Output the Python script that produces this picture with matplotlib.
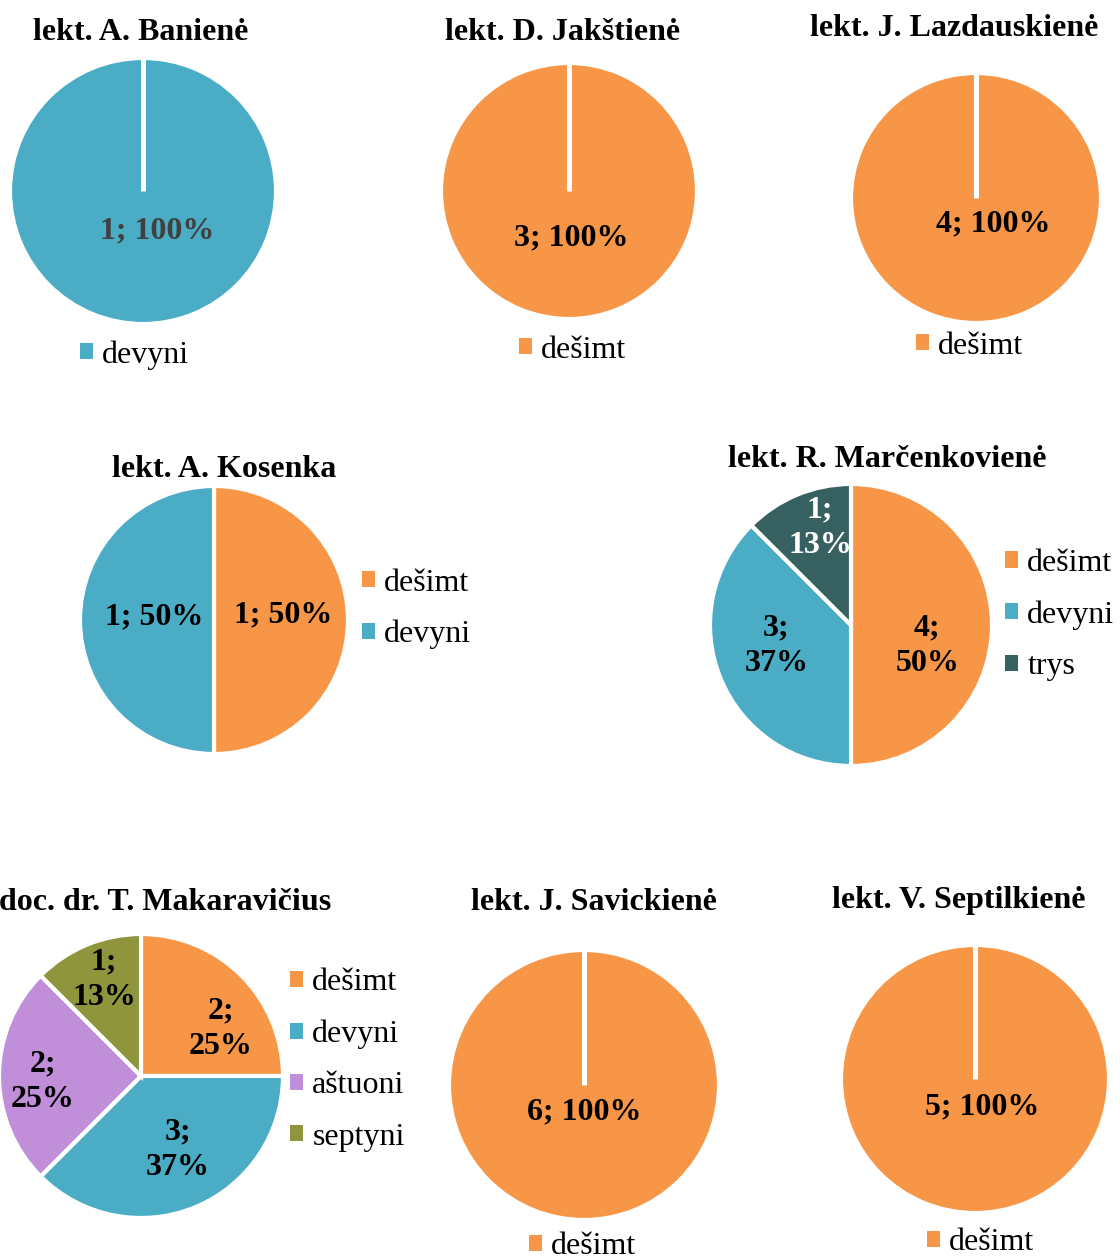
import matplotlib
matplotlib.use("Agg")
import matplotlib.pyplot as plt
from matplotlib.patches import Patch
import numpy as np

plt.rcParams['font.family'] = ['Liberation Serif', 'DejaVu Serif']

W, H = 1120, 1258

# Grade names and their colours
grade_colors = {
    "dešimt": "#F79646",
    "devyni": "#4BACC6",
    "aštuoni": "#C18FDA",
    "septyni": "#8E953C",
    "trys": "#366160",
}

# Lecturers
titles = [
    "lekt. A. Banienė",
    "lekt. D. Jakštienė",
    "lekt. J. Lazdauskienė",
    "lekt. A. Kosenka",
    "lekt. R. Marčenkovienė",
    "doc. dr. T. Makaravičius",
    "lekt. J. Savickienė",
    "lekt. V. Septilkienė",
]

# Grades given by each lecturer: categories, counts, shown percentages
baniene_grades = ["devyni"]
baniene_counts = [1]
baniene_pct = [100]

jakstiene_grades = ["dešimt"]
jakstiene_counts = [3]
jakstiene_pct = [100]

lazdauskiene_grades = ["dešimt"]
lazdauskiene_counts = [4]
lazdauskiene_pct = [100]

kosenka_grades = ["dešimt", "devyni"]
kosenka_counts = [1, 1]
kosenka_pct = [50, 50]

marcenkoviene_grades = ["dešimt", "devyni", "trys"]
marcenkoviene_counts = [4, 3, 1]
marcenkoviene_pct = [50, 37, 13]

makaravicius_grades = ["dešimt", "devyni", "aštuoni", "septyni"]
makaravicius_counts = [2, 3, 2, 1]
makaravicius_pct = [25, 37, 25, 13]

savickiene_grades = ["dešimt"]
savickiene_counts = [6]
savickiene_pct = [100]

septilkiene_grades = ["dešimt"]
septilkiene_counts = [5]
septilkiene_pct = [100]

chart_data = [
    (baniene_grades, baniene_counts, baniene_pct),
    (jakstiene_grades, jakstiene_counts, jakstiene_pct),
    (lazdauskiene_grades, lazdauskiene_counts, lazdauskiene_pct),
    (kosenka_grades, kosenka_counts, kosenka_pct),
    (marcenkoviene_grades, marcenkoviene_counts, marcenkoviene_pct),
    (makaravicius_grades, makaravicius_counts, makaravicius_pct),
    (savickiene_grades, savickiene_counts, savickiene_pct),
    (septilkiene_grades, septilkiene_counts, septilkiene_pct),
]

# Layout in pixels: pie centre/radius, title centre, legend anchor, label spots
layouts = [
    dict(center=(143, 191), r=131, title=(141, 40), legend=(80, 355),
         labels=[(0.11, -0.30)], wrap=False, label_colors=["#404040"]),
    dict(center=(569, 191), r=126, title=(563, 40), legend=(519, 350),
         labels=[(0.02, -0.37)], wrap=False, label_colors=["black"]),
    dict(center=(976, 198), r=123, title=(954, 36), legend=(916, 346),
         labels=[(0.14, -0.21)], wrap=False, label_colors=["black"]),
    dict(center=(214, 620), r=132, title=(224, 477), legend=(362, 609),
         labels=[(0.52, 0.04), (-0.45, 0.02)], wrap=False, label_colors=["black", "black"]),
    dict(center=(851, 625), r=139, title=(887, 467), legend=(1005, 615),
         labels=[(0.54, -0.15), (-0.53, -0.15), (-0.22, 0.69)], wrap=True,
         label_colors=["black", "black", "white"]),
    dict(center=(141, 1076), r=140, title=(165, 910), legend=(290, 1060),
         labels=[(0.56, 0.33), (0.26, -0.52), (-0.69, -0.04), (-0.26, 0.68)], wrap=True,
         label_colors=["black"] * 4),
    dict(center=(584, 1085), r=133, title=(594, 910), legend=(529, 1247),
         labels=[(0.0, -0.20)], wrap=False, label_colors=["black"]),
    dict(center=(975, 1079), r=132, title=(959, 908), legend=(927, 1243),
         labels=[(0.05, -0.21)], wrap=False, label_colors=["black"]),
]

FS = 23

fig = plt.figure(figsize=(W / 100, H / 100), dpi=100)


def fig_xy(x, y):
    return x / W, 1 - y / H


for title, (grades, counts, pcts), lay in zip(titles, chart_data, layouts):
    cx, cy = lay["center"]
    R = lay["r"] + 2
    pad = 1.1
    half = R * pad
    ax = fig.add_axes([(cx - half) / W, 1 - (cy + half) / H, 2 * half / W, 2 * half / H])
    colors = [grade_colors[g] for g in grades]
    wedges, _ = ax.pie(counts, colors=colors, startangle=90, counterclock=False,
                       radius=1, wedgeprops=dict(edgecolor="white", linewidth=3))
    ax.set_xlim(-pad, pad)
    ax.set_ylim(-pad, pad)
    ax.set_aspect("equal")
    ax.axis("off")
    if len(counts) == 1:
        # seam of the single full slice at its start angle
        a = np.deg2rad(90)
        ax.plot([0, np.cos(a)], [0, np.sin(a)], color="white", lw=3.6,
                solid_capstyle="butt")

    for n, p, (lx, ly), col in zip(counts, pcts, lay["labels"], lay["label_colors"]):
        sep = "\n" if lay["wrap"] else " "
        ax.text(lx, ly, f"{n};{sep}{p}%", ha="center", va="center", fontsize=FS,
                fontweight="bold", color=col, linespacing=1.3, multialignment="center")

    tx, ty = lay["title"]
    fig.text(*fig_xy(tx, ty), title, ha="center", va="baseline", fontsize=FS,
             fontweight="bold")

    handles = [Patch(facecolor=c, edgecolor="none") for c in colors]
    fig.legend(handles=handles, labels=grades, loc="center left",
               bbox_to_anchor=fig_xy(*lay["legend"]), frameon=False, borderpad=0,
               borderaxespad=0, handlelength=0.4, handleheight=0.4,
               handletextpad=0.3, labelspacing=0.7, fontsize=FS)

fig.savefig("out.png", dpi=100, facecolor="white")
